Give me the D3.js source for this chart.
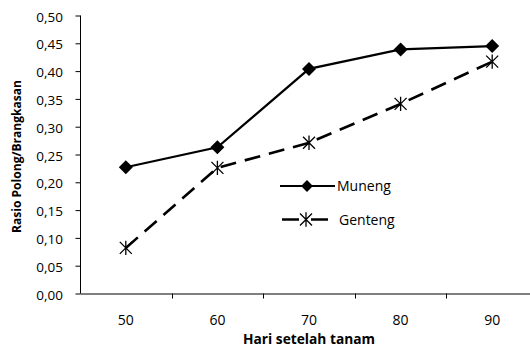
<!DOCTYPE html>
<html><head><meta charset="utf-8">
<script src="https://cdn.jsdelivr.net/npm/d3@7"></script>
<style>body{margin:0;background:#fff}svg{display:block}text{font-family:"Open Sans",Lato,sans-serif}</style>
</head><body><svg id="c" width="530" height="348"></svg>
<script>
const categories = ["50","60","70","80","90"];
const muneng = [0.227, 0.263, 0.404, 0.439, 0.445];
const genteng = [0.082, 0.226, 0.271, 0.341, 0.417];
const yTicks = [0,0.05,0.1,0.15,0.2,0.25,0.3,0.35,0.4,0.45,0.5];
const seriesNames = ["Muneng","Genteng"];

const svg = d3.select("#c");
const x = d3.scaleBand().domain(categories).range([80, 538]);
const y = d3.scaleLinear().domain([0,0.5]).range([293.5, 15.5]);
const fmt = v => d3.format(".2f")(v).replace(".", ",");

function fit(sel, w){
  const n = sel.node(); const fs = parseFloat(sel.attr("font-size"));
  const cur = n.getComputedTextLength();
  sel.attr("font-size", (fs*w/cur).toFixed(2));
}

// y axis
const ya = svg.append("g").attr("transform","translate(80,0)")
  .call(d3.axisLeft(y).tickValues(yTicks).tickSize(5).tickSizeOuter(0).tickFormat(fmt));
ya.select(".domain").attr("stroke","#000").attr("d","M0.5,"+y(0.5)+"V"+y(0));
ya.selectAll("line").attr("stroke","#000").attr("transform","translate(0.5,0)");
ya.selectAll("text").attr("font-size",13.5).attr("fill","#000").attr("x",-17).attr("dy","0.42em");

// x axis
const xa = svg.append("g").attr("transform","translate(0,293.5)")
  .call(d3.axisBottom(x).tickSize(0).tickSizeOuter(0));
xa.select(".domain").attr("stroke","#000");
xa.selectAll("text").attr("font-size",14).attr("fill","#000").attr("dy","0").attr("y",31);
const bounds = categories.map(c => x(c)).slice(1);
xa.selectAll(".bt").data(bounds).enter().append("line").attr("class","bt")
  .attr("x1",d=>Math.round(d)+0.5).attr("x2",d=>Math.round(d)+0.5).attr("y1",0).attr("y2",5).attr("stroke","#000");

// titles
const xt = svg.append("text").attr("x", 309).attr("y", 344).attr("text-anchor","middle")
  .attr("font-size",13).attr("font-weight","bold").text("Hari setelah tanam");
fit(xt, 132);
const yt = svg.append("text").attr("transform","translate(21,156.5) rotate(-90)").attr("text-anchor","middle")
  .attr("font-size",12).attr("font-weight","bold").text("Rasio Polong/Brangkasan");
fit(yt, 153);

const cx = c => x(c) + x.bandwidth()/2;
const line = d3.line().x((d,i)=>cx(categories[i])).y(d=>y(d));

svg.append("path").datum(genteng).attr("d",line).attr("fill","none").attr("stroke","#000")
  .attr("stroke-width",2.6).attr("stroke-dasharray","16,9");
svg.append("path").datum(muneng).attr("d",line).attr("fill","none").attr("stroke","#000")
  .attr("stroke-width",2.2);

const diamond = "M0,-7L7,0L0,7L-7,0Z";
function star(g, px, py, r){
  g.append("path").attr("d",
    `M${px-r},${py-r}L${px+r},${py+r}M${px-r},${py+r}L${px+r},${py-r}M${px},${py-r*1.2}L${px},${py+r*1.2}`)
    .attr("stroke","#000").attr("stroke-width",1.3).attr("fill","none");
}
svg.selectAll(".dm").data(muneng).enter().append("path").attr("class","dm")
  .attr("d",diamond).attr("transform",(d,i)=>`translate(${cx(categories[i])},${y(d)})`).attr("fill","#000");
const sg = svg.append("g");
genteng.forEach((d,i)=>star(sg, cx(categories[i]), y(d), 6));

// legend
const lg = svg.append("g");
lg.append("line").attr("x1",280).attr("x2",335).attr("y1",186).attr("y2",186).attr("stroke","#000").attr("stroke-width",2.2);
lg.append("path").attr("d",diamond).attr("transform","translate(307,186) scale(0.85)").attr("fill","#000");
lg.append("text").attr("x",337).attr("y",191).attr("font-size",14).text(seriesNames[0]);
lg.append("line").attr("x1",282).attr("x2",328).attr("y1",219.5).attr("y2",219.5).attr("stroke","#000").attr("stroke-width",2.6).attr("stroke-dasharray","17,12,17");
star(lg, 306, 219.5, 6);
lg.append("text").attr("x",339).attr("y",224.5).attr("font-size",14).text(seriesNames[1]);
</script></body></html>
